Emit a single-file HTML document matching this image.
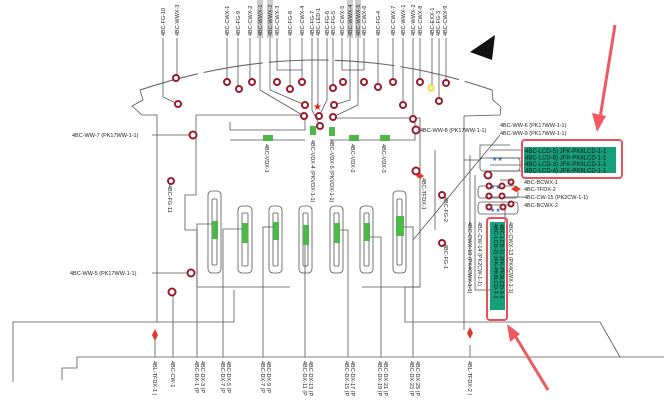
<!DOCTYPE html>
<html><head><meta charset="utf-8"><style>
html,body{margin:0;padding:0;background:#fff;}
svg{display:block;font-family:"Liberation Sans",sans-serif;}
</style></head><body>
<svg width="664" height="400" viewBox="0 0 664 400" xmlns="http://www.w3.org/2000/svg">
<g fill="none" stroke="#555" stroke-width="0.8">
<!-- arc -->
<path d="M140,90 Q320,30 492,90" stroke="#666" stroke-width="1.1" stroke-dasharray="60,6"/>
<path d="M140,90 L143,100 L132,106 L142,115 L157,115 L157,322"/>
<path d="M492,90 L493,100 L501,107 L500,115 L464,116 L464,330"/>
<!-- lower lines -->
<path d="M13,382 L13,322 L234,322 L234,290"/>
<path d="M62,380 L62,368 L77,368 L77,357 L664,357"/>
<path d="M405,290 L405,322 L600,322 L620,357"/>
<!-- inner box -->
<path d="M196,115 L196,195 L185,195 L185,230 L197,230 L197,287 L290,287"/>
<path d="M362,287 L420,287 L420,118 L330,118"/>
<path d="M196,115 L300,115"/>
<path d="M230,122 L230,130 L305,130 L305,118"/>
<path d="M230,140 L305,140"/>
<path d="M330,140 L415,140 L415,118"/>
<!-- top label leads -->
<path d="M163,38 L163,97 L178,104"/>
<path d="M177,38 L177,78 M227,38 L227,82 M238,38 L238,89 M250,38 L250,82 M290,38 L290,89 M302,38 L302,82 M333,38 L333,88 M378,38 L378,87 M393,38 L393,82 M403,38 L403,105 M413,38 L413,119 M420,38 L420,82 M432,38 L432,88 M439,38 L439,101 M446,38 L446,83"/>
<path d="M260,38 L260,90 L304,116 M270,38 L270,90 L305,105 M277,38 L277,70 L302,70 M312,38 L312,110 L320,126 M318,38 L318,107 M327,38 L327,100 L319,116 M342,38 L342,70 L364,70 L364,38 M350,38 L350,100 L334,105 M358,38 L358,105 L333,117"/>
<!-- left labels leads -->
<path d="M152,135 L193,135 M152,273 L191,273"/>
<!-- slots -->
<rect x="208" y="191" width="13" height="82" rx="4"/><rect x="212" y="199" width="5" height="66" rx="1"/>
<rect x="238" y="206" width="14" height="67" rx="4"/><rect x="242" y="213" width="6" height="53" rx="1"/>
<rect x="269" y="206" width="13" height="67" rx="4"/><rect x="273" y="213" width="5" height="53" rx="1"/>
<rect x="299" y="206" width="13" height="67" rx="4"/><rect x="303" y="213" width="5" height="53" rx="1"/>
<rect x="330" y="206" width="13" height="67" rx="4"/><rect x="334" y="213" width="5" height="53" rx="1"/>
<rect x="360" y="206" width="13" height="67" rx="4"/><rect x="364" y="213" width="5" height="53" rx="1"/>
<rect x="393" y="191" width="13" height="82" rx="4"/><rect x="397" y="199" width="5" height="66" rx="1"/>
<!-- slot leads -->
<path d="M197,357 L197,224 L212,224 M223,357 L223,229 L242,229 M263,357 L263,227 L273,227 M305,357 L305,235 M348,357 L348,230 L338,230 M381,357 L381,237 L368,237 M413,357 L413,227 L400,227"/>
<path d="M193,287 L193,287 M405,290 L405,287 L420,287"/>
<path d="M173,357 L173,293 M155,357 L155,337"/>
<!-- right region -->
<path d="M416,130 L420,130 M413,240 L500,135 M435,150 L435,230 M464,160 L480,160 L480,145 L510,145 M470,155 L470,290 M475,175 L475,290 L495,290"/>
<rect x="480" y="158" width="40" height="13" rx="3"/>
<rect x="478" y="186" width="40" height="12" rx="3"/>
<rect x="478" y="202" width="40" height="12" rx="3"/>
<path d="M490,150 L522,150 M490,158 L522,158 M490,165 L522,165 M490,171 L522,171 M500,180 L511,180 M485,197 L524,197 M485,205 L511,205 M505,222 L505,210"/>
<!-- bottom right -->
<path d="M470,357 L470,345"/>
</g>
<!-- green -->
<g fill="#4cb847">
<rect x="263" y="135" width="10" height="6"/><rect x="349" y="135" width="10" height="6"/><rect x="380" y="135" width="10" height="6"/>
<rect x="310" y="126" width="6" height="9"/><rect x="329" y="127" width="6" height="9"/>
<rect x="212" y="221" width="6" height="18"/><rect x="242" y="223" width="6" height="20"/><rect x="273" y="222" width="6" height="18"/><rect x="303" y="225" width="6" height="20"/><rect x="334" y="223" width="6" height="20"/><rect x="364" y="223" width="6" height="18"/><rect x="396" y="216" width="8" height="20"/>
</g>
<!-- green label boxes -->
<rect x="522" y="140" width="100" height="38" rx="3" fill="none" stroke="#e8525a" stroke-width="2"/>
<rect x="524" y="147" width="92" height="26" fill="#15a07a"/>
<g font-size="6" fill="#111">
<text x="525" y="153">4BC-LCD-5) JFK-PK8LCD-1-1</text>
<text x="525" y="159.5">4BC-LCD-6) JFK-PK8LCD-1-1</text>
<text x="525" y="166">4BC-LCD-3) JFK-PK8LCD-1-1</text>
<text x="525" y="172.5">4BC-LCD-4) JFK-PK8LCD-1-1</text>
</g>
<rect x="487" y="218" width="20" height="102" rx="3" fill="none" stroke="#e8525a" stroke-width="2"/>
<rect x="490" y="222" width="15" height="88" fill="#15a07a"/>
<g font-size="5.5" fill="#111">
<text transform="translate(494,224) rotate(90)">4BC-LCD-2) JFK-PK8LCD-1-1</text>
<text transform="translate(500,224) rotate(90)">4BC-LCD-1) JFK-PK8LCD-1-1</text>
</g>
<!-- blue stars -->
<g fill="#3a6fd8" font-size="6"><text x="492" y="161">★★</text><text x="490" y="189">★★</text><text x="490" y="212">★★</text></g>
<!-- red arrows -->
<path d="M615,25 L600,118" stroke="#ef5a62" stroke-width="3"/>
<path d="M592,113 L597,132 L606,116 Z" fill="#ef5a62"/>
<path d="M548,390 L514,334" stroke="#ef5a62" stroke-width="3"/>
<path d="M507,324 L510,342 L520,334 Z" fill="#ef5a62"/>
<!-- circles -->
<g fill="#fff" stroke="#9b1b2a" stroke-width="2">
<circle cx="176" cy="78" r="3"/><circle cx="178" cy="104" r="3"/><circle cx="227" cy="82" r="3"/><circle cx="239" cy="89" r="3"/><circle cx="252" cy="82" r="3"/><circle cx="277" cy="82" r="3"/><circle cx="290" cy="89" r="3"/><circle cx="302" cy="82" r="3"/><circle cx="305" cy="105" r="3"/><circle cx="304" cy="116" r="3"/><circle cx="319" cy="116" r="3"/><circle cx="320" cy="126" r="3"/><circle cx="333" cy="88" r="3"/><circle cx="343" cy="82" r="3"/><circle cx="364" cy="82" r="3"/><circle cx="378" cy="87" r="3"/><circle cx="334" cy="105" r="3"/><circle cx="333" cy="117" r="3"/><circle cx="393" cy="82" r="3"/><circle cx="403" cy="105" r="3"/><circle cx="420" cy="82" r="3"/><circle cx="439" cy="101" r="3"/><circle cx="446" cy="83" r="3"/><circle cx="413" cy="119" r="3"/><circle cx="416" cy="130" r="3.5"/><circle cx="193" cy="135" r="3.5"/>
<circle cx="171" cy="181" r="3"/><circle cx="191" cy="273" r="3.5"/><circle cx="172" cy="292" r="3.5"/><circle cx="416" cy="171" r="3.5"/><circle cx="442" cy="195" r="3"/><circle cx="442" cy="243" r="3"/>
<circle cx="488" cy="175" r="3.5"/><circle cx="511" cy="182" r="2.5"/><circle cx="489" cy="186" r="2.5"/><circle cx="502" cy="186" r="2.5"/><circle cx="489" cy="196" r="2.5"/><circle cx="502" cy="196" r="2.5"/><circle cx="489" cy="207" r="2.5"/><circle cx="503" cy="207" r="2.5"/><circle cx="511" cy="204" r="2.5"/>
</g>
<circle cx="431" cy="88" r="3" fill="#fff6a0" stroke="#e8d23a" stroke-width="1.2"/>
<text x="313" y="110" fill="#e02020" font-size="10">★</text>
<g fill="#e03a2a"><path d="M155,329 L158,335 L155,341 L152,335Z"/><path d="M470,327 L473,333 L470,339 L467,333Z"/><path d="M420,173 L424,176 L420,179 L416,176Z"/><path d="M516,186 L521,189 L516,192 L511,189Z"/></g>
<!-- pen icon -->
<path d="M470,52 L495,35 L492,60 Z" fill="#111"/><path d="M482,56 L485,50 L487,57 L490,51" stroke="#111" fill="none"/>
<!-- top labels -->
<g font-size="5.5" fill="#222">
<text transform="translate(165,36) rotate(-90)">4BC-FG-10</text>
<text transform="translate(179,36) rotate(-90)">4BC-WWX-3</text>
<text transform="translate(229,36) rotate(-90)">4BC-CWX-1</text>
<text transform="translate(240,36) rotate(-90)">4BC-FG-9</text>
<text transform="translate(252,36) rotate(-90)">4BC-CWX-2</text>
<rect x="257" y="0" width="6" height="38" fill="#ccc"/><rect x="267" y="0" width="6" height="38" fill="#ccc"/>
<rect x="347" y="0" width="6" height="38" fill="#ccc"/><rect x="355" y="0" width="6" height="38" fill="#ccc"/>
<text transform="translate(262,36) rotate(-90)">4BC-WWX-1</text>
<text transform="translate(272,36) rotate(-90)">4BC-WWX-2</text>
<text transform="translate(279,36) rotate(-90)">4BC-CWX-3</text>
<text transform="translate(292,36) rotate(-90)">4BC-FG-8</text>
<text transform="translate(304,36) rotate(-90)">4BC-CWX-4</text>
<text transform="translate(314,36) rotate(-90)">4BC-FG-7</text>
<text transform="translate(320,36) rotate(-90)">4BC-LED-1</text>
<text transform="translate(329,36) rotate(-90)">4BC-FG-6</text>
<text transform="translate(335,36) rotate(-90)">4BC-FG-5</text>
<text transform="translate(344,36) rotate(-90)">4BC-CWX-5</text>
<text transform="translate(352,36) rotate(-90)">4BC-WWX-4</text>
<text transform="translate(360,36) rotate(-90)">4BC-WWX-5</text>
<text transform="translate(366,36) rotate(-90)">4BC-CWX-6</text>
<text transform="translate(380,36) rotate(-90)">4BC-FG-4</text>
<text transform="translate(395,36) rotate(-90)">4BC-CWX-7</text>
<text transform="translate(405,36) rotate(-90)">4BC-WWX-1</text>
<text transform="translate(415,36) rotate(-90)">4BC-WWX-2</text>
<text transform="translate(422,36) rotate(-90)">4BC-CWX-8</text>
<text transform="translate(434,36) rotate(-90)">4BC-EXX-1</text>
<text transform="translate(440,36) rotate(-90)">4BC-FG-3</text>
<text transform="translate(447,36) rotate(-90)">4BC-CWX-9</text>
<!-- mid labels -->
<text x="72" y="137">4BC-WW-7 (PK17WW-1-1)</text>
<text x="70" y="275">4BC-WW-5 (PK17WW-1-1)</text>
<text x="420" y="132">4BC-WW-8 (PK17WW-1-1)</text>
<text x="500" y="127">4BC-WW-6 (PK17WW-1-1)</text>
<text x="500" y="135">4BC-WW-9 (PK17WW-1-1)</text>
<text x="524" y="184">4BC-BCWX-1</text>
<text x="524" y="191">4BC-TFDX-2</text>
<text x="524" y="199">4BC-CW-15 (PK2CW-1-1)</text>
<text x="524" y="207">4BC-BCWX-2</text>
<text transform="translate(265,144) rotate(90)">4BC-VDX-1</text>
<text transform="translate(311,140) rotate(90)">4BC-VDX-4 (PKVDX-1-1)</text>
<text transform="translate(330,140) rotate(90)">4BC-VDX-5 (PKVDX-1-1)</text>
<text transform="translate(351,144) rotate(90)">4BC-VDX-2</text>
<text transform="translate(382,144) rotate(90)">4BC-VDX-3</text>
<text transform="translate(168,185) rotate(90)">4BC-FG-11</text>
<text transform="translate(422,178) rotate(90)">4BC-TFDX-1</text>
<text transform="translate(444,197) rotate(90)">4BC-FG-2</text>
<text transform="translate(444,244) rotate(90)">4BC-FG-1</text>
<text transform="translate(468,222) rotate(90)">4BC-CWX-10 (PK4CWX-1-1)</text>
<text transform="translate(478,222) rotate(90)">4BC-CW-14 (PK2CW-1-1)</text>
<text transform="translate(509,222) rotate(90)">4BC-CWX-13 (PK4CWX-1-1)</text>
<!-- bottom labels -->
<text transform="translate(153,361) rotate(90)">4BL-TFDX-1 (</text>
<text transform="translate(171,361) rotate(90)">4BC-CW-1</text>
<text transform="translate(195,361) rotate(90)">4BC-DX-1 (P</text><text transform="translate(201,361) rotate(90)">4BC-DX-3 (P</text>
<text transform="translate(221,361) rotate(90)">4BC-DX-7 (P</text><text transform="translate(227,361) rotate(90)">4BC-DX-5 (P</text>
<text transform="translate(261,361) rotate(90)">4BC-DX-7 (P</text><text transform="translate(267,361) rotate(90)">4BC-DX-9 (P</text>
<text transform="translate(303,361) rotate(90)">4BC-DX-11 (P</text><text transform="translate(309,361) rotate(90)">4BC-DX-13 (P</text>
<text transform="translate(345,361) rotate(90)">4BC-DX-15 (P</text><text transform="translate(351,361) rotate(90)">4BC-DX-17 (P</text>
<text transform="translate(378,361) rotate(90)">4BC-DX-19 (P</text><text transform="translate(384,361) rotate(90)">4BC-DX-21 (P</text>
<text transform="translate(410,361) rotate(90)">4BC-DX-23 (P</text><text transform="translate(416,361) rotate(90)">4BC-DX-25 (P</text>
<text transform="translate(468,361) rotate(90)">4BL-TFDX-2 (</text>
</g>
</svg>
</body></html>
